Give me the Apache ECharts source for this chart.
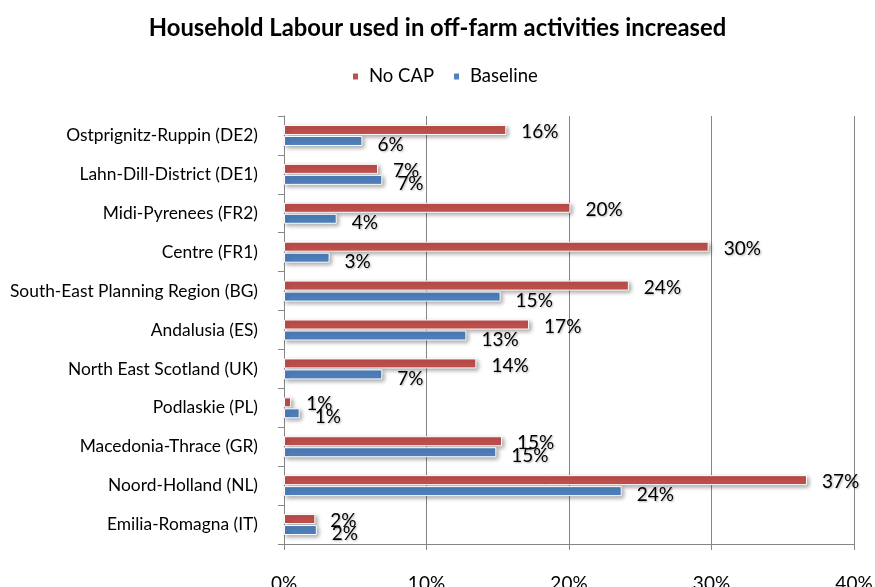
<!DOCTYPE html>
<html>
<head>
<meta charset="utf-8">
<script src="https://cdn.jsdelivr.net/npm/echarts@6/dist/echarts.min.js"></script>
<style>
  html, body { margin: 0; padding: 0; background: #fff; }
  #chart { width: 875px; height: 587px; }
</style>
</head>
<body>
<div id="chart"></div>
<script>
// Regions, listed from top to bottom as shown on the chart
const regions = [
  'Ostprignitz-Ruppin (DE2)',
  'Lahn-Dill-District (DE1)',
  'Midi-Pyrenees (FR2)',
  'Centre (FR1)',
  'South-East Planning Region (BG)',
  'Andalusia (ES)',
  'North East Scotland (UK)',
  'Podlaskie (PL)',
  'Macedonia-Thrace (GR)',
  'Noord-Holland (NL)',
  'Emilia-Romagna (IT)'
];

// Share of household labour used off-farm (%)
const noCap    = [15.6, 6.6, 20.1, 29.8, 24.2, 17.2, 13.5, 0.5, 15.3, 36.7, 2.2];
const baseline = [5.5, 6.9, 3.7, 3.2, 15.2, 12.8, 6.9, 1.1, 14.9, 23.7, 2.3];

const xTicks = [0, 10, 20, 30, 40];

const FONT = 'Lato';
const RED = '#C0504D';
const BLUE = '#4F81BD';

const chart = echarts.init(document.getElementById('chart'), null, { renderer: 'canvas' });

function barSeries(name, data, color, dy) {
  return {
    name: name,
    type: 'bar',
    data: data,
    barWidth: 10,
    barGap: '10%',
    itemStyle: {
      color: color,
      borderColor: '#ffffff',
      borderWidth: 1,
      shadowColor: 'rgba(0,0,0,0.35)',
      shadowBlur: 4,
      shadowOffsetX: 2,
      shadowOffsetY: 2
    },
    label: {
      show: true,
      position: 'right',
      distance: 15,
      offset: [0, dy],
      formatter: p => Math.round(p.value) + '%',
      fontFamily: FONT,
      fontSize: 19,
      color: '#000',
      textShadowColor: 'rgba(0,0,0,0.3)',
      textShadowBlur: 2,
      textShadowOffsetX: 1,
      textShadowOffsetY: 1
    },
    emphasis: { disabled: true },
    animation: false
  };
}

chart.setOption({
  animation: false,
  title: {
    text: 'Household Labour used in off-farm activities increased',
    left: 'center',
    top: 11,
    textStyle: { fontFamily: FONT, fontWeight: 'bold', fontSize: 23.8, color: '#000' }
  },
  legend: {
    data: ['No CAP', 'Baseline'],
    top: 62,
    left: 346,
    itemWidth: 7,
    itemHeight: 8,
    itemGap: 18,
    icon: 'rect',
    textStyle: { fontFamily: FONT, fontSize: 18.5, color: '#000', padding: [0, 0, 0, 5] }
  },
  grid: {
    left: 284, right: 21, top: 116, bottom: 43,
    containLabel: false,
    outerBoundsMode: 'none'
  },
  xAxis: {
    type: 'value',
    min: xTicks[0],
    max: xTicks[xTicks.length - 1],
    interval: 10,
    axisLine: { show: true, lineStyle: { color: '#868686' } },
    axisTick: { show: true, length: 6, lineStyle: { color: '#868686' } },
    splitLine: { show: true, lineStyle: { color: '#868686' } },
    axisLabel: {
      margin: 30,
      formatter: v => v + '%',
      fontFamily: FONT,
      fontSize: 19,
      color: '#000'
    }
  },
  yAxis: {
    type: 'category',
    data: regions,
    inverse: true,
    axisLine: { show: true, lineStyle: { color: '#868686' } },
    axisTick: { show: true, length: 6, alignWithLabel: false, lineStyle: { color: '#868686' } },
    axisLabel: { margin: 26, fontFamily: FONT, fontSize: 17.4, color: '#000' },
    splitLine: { show: false }
  },
  series: [
    barSeries('No CAP', noCap, RED, 2),
    barSeries('Baseline', baseline, BLUE, 4)
  ]
});
</script>
</body>
</html>
